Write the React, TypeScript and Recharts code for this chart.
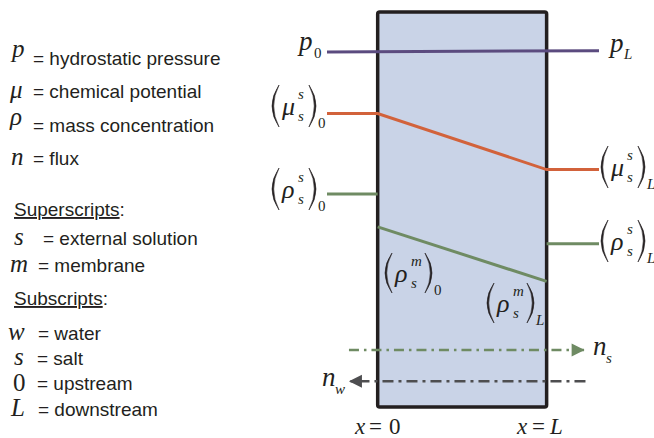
import React from 'react'
import { ComposedChart, Line, XAxis, YAxis, ReferenceArea } from 'recharts'

// x: 0 = upstream face, 1 = downstream face of the membrane (x = L)
// y: relative level of each quantity, 0 = bottom of the membrane, 100 = top
const xRange = [-0.3, 1.31]
const levelRange = [0, 100]
const membraneX = [0, 1]

const pressure = [
  { x: -0.3, y: 89.9 },
  { x: 1.31, y: 90.2 },
]
const chemPotential = [
  { x: -0.3, y: 74.3 },
  { x: 0, y: 74.3 },
  { x: 1, y: 60.1 },
  { x: 1.31, y: 60.1 },
]
const saltUpstream = [
  { x: -0.3, y: 53.9 },
  { x: 0, y: 53.9 },
]
const saltDownstream = [
  { x: 1, y: 41.3 },
  { x: 1.31, y: 41.3 },
]
const saltInMembrane = [
  { x: 0, y: 45.6 },
  { x: 1, y: 31.8 },
]
const saltFlux = [
  { x: -0.17, y: 14.4 },
  { x: 1.225, y: 14.4 },
]
const waterFlux = [
  { x: 1.23, y: 6.5 },
  { x: -0.17, y: 6.5 },
]

const SERIF = '"Liberation Serif", "DejaVu Serif", serif'
const SANS = '"Liberation Sans", Arial, sans-serif'
const INK = '#231f20'

const PURPLE = '#5b4b7f'
const ORANGE = '#d2623b'
const GREEN = '#6f8b63'
const GREY = '#4e4e50'

// arrow head drawn on the last point of a flux line
const arrowDot = (dir: 1 | -1, color: string, last: number) => (props: any) => {
  const { cx, cy, index } = props
  if (index !== last) return <g key={`d${index}`} />
  const b = cx - dir * 13
  return (
    <polygon
      key={`d${index}`}
      points={`${cx},${cy} ${b},${cy - 6.5} ${b},${cy + 6.5}`}
      fill={color}
    />
  )
}

function Paren({ x, cy, h = 42, right = false }: { x: number; cy: number; h?: number; right?: boolean }) {
  const w = 7
  const t = 1.7
  const top = cy - h / 2
  const bot = cy + h / 2
  const xe = right ? x : x + w
  const s = right ? 1 : -1
  const d = `M${xe},${top} Q${xe + s * 2 * w},${cy} ${xe},${bot} Q${xe + s * (2 * w - 2 * t)},${cy} ${xe},${top} Z`
  return <path d={d} fill={INK} stroke={INK} strokeWidth={0.6} />
}

function MathLabel({
  x, cy, base, sup, sub, outer, wide = false, h = 42,
}: { x: number; cy: number; base: string; sup: string; sub: string; outer: string; wide?: boolean; h?: number }) {
  const rp = wide ? 40 : 37
  return (
    <g fill={INK} fontFamily={SERIF}>
      <Paren x={x} cy={cy} h={h} />
      <text x={x + 10} y={cy + 9} fontSize={26} fontStyle="italic">{base}</text>
      <text x={x + 26} y={cy - 7} fontSize={15} fontStyle="italic">{sup}</text>
      <text x={x + 26} y={cy + 15} fontSize={15} fontStyle="italic">{sub}</text>
      <Paren x={x + rp} cy={cy} h={h} right />
      <text x={x + rp + 9} y={cy + 22} fontSize={15} fontStyle={outer === '0' ? 'normal' : 'italic'}>{outer}</text>
    </g>
  )
}

function Sym({ x, y, ch, italic = true }: { x: number; y: number; ch: string; italic?: boolean }) {
  return (
    <text x={x} y={y} fontFamily={SERIF} fontSize={25} fontStyle={italic ? 'italic' : 'normal'} fill={INK}>
      {ch}
    </text>
  )
}

function Txt({ x, y, children }: { x: number; y: number; children: React.ReactNode }) {
  return (
    <text x={x} y={y} fontFamily={SANS} fontSize={19} fill={INK}>
      {children}
    </text>
  )
}

function Overlay() {
  return (
    <svg width={654} height={438} style={{ position: 'absolute', left: 0, top: 0, pointerEvents: 'none' }}>
      {/* key */}
      <Sym x={12} y={57} ch="p" />
      <Txt x={33} y={65}>= hydrostatic pressure</Txt>
      <Sym x={10} y={98} ch="μ" />
      <Txt x={33} y={98}>= chemical potential</Txt>
      <Sym x={10} y={125} ch="ρ" />
      <Txt x={33} y={132}>= mass concentration</Txt>
      <Sym x={11} y={165} ch="n" />
      <Txt x={33} y={165}>= flux</Txt>

      <Txt x={14} y={216}>
        <tspan style={{ textDecoration: 'underline' }}>Superscripts</tspan>:
      </Txt>
      <Sym x={14} y={245} ch="s" />
      <Txt x={43} y={245}>= external solution</Txt>
      <Sym x={10} y={272} ch="m" />
      <Txt x={38} y={272}>= membrane</Txt>

      <Txt x={14} y={305}>
        <tspan style={{ textDecoration: 'underline' }}>Subscripts</tspan>:
      </Txt>
      <Sym x={8} y={340} ch="w" />
      <Txt x={38} y={340}>= water</Txt>
      <Sym x={14} y={365} ch="s" />
      <Txt x={37} y={365}>= salt</Txt>
      <Sym x={13} y={391} ch="0" italic={false} />
      <Txt x={37} y={390}>= upstream</Txt>
      <Sym x={11} y={416} ch="L" />
      <Txt x={38} y={416}>= downstream</Txt>

      {/* pressure labels */}
      <g fill={INK} fontFamily={SERIF}>
        <text x={299} y={50} fontSize={27} fontStyle="italic">p</text>
        <text x={314} y={58} fontSize={15}>0</text>
        <text x={610} y={52} fontSize={27} fontStyle="italic">p</text>
        <text x={624} y={59} fontSize={15} fontStyle="italic">L</text>
      </g>

      <MathLabel x={272} cy={106} base="μ" sup="s" sub="s" outer="0" />
      <MathLabel x={272} cy={189} base="ρ" sup="s" sub="s" outer="0" />
      <MathLabel x={601} cy={167} base="μ" sup="s" sub="s" outer="L" />
      <MathLabel x={601} cy={241} base="ρ" sup="s" sub="s" outer="L" />
      <MathLabel x={385} cy={273} base="ρ" sup="m" sub="s" outer="0" wide h={40} />
      <MathLabel x={487} cy={303} base="ρ" sup="m" sub="s" outer="L" wide h={40} />

      {/* flux labels */}
      <g fill={INK} fontFamily={SERIF} fontStyle="italic">
        <text x={593} y={355} fontSize={27}>n</text>
        <text x={606} y={363} fontSize={15}>s</text>
        <text x={322} y={386} fontSize={27}>n</text>
        <text x={335} y={394} fontSize={15}>w</text>
      </g>

      {/* position labels */}
      <g fill={INK} fontFamily={SERIF} fontSize={23}>
        <text x={355} y={434} fontStyle="italic">x</text>
        <text x={369} y={434}>=</text>
        <text x={389} y={434}>0</text>
        <text x={517} y={434} fontStyle="italic">x</text>
        <text x={532} y={434}>=</text>
        <text x={550} y={434} fontStyle="italic">L</text>
      </g>
    </svg>
  )
}

export default function App() {
  return (
    <div style={{ position: 'absolute', left: 0, top: 0, width: 654, height: 438, background: '#fff', overflow: 'hidden' }}>
      <ComposedChart width={654} height={438} margin={{ top: 12, right: 55, bottom: 31, left: 327 }}>
        <XAxis type="number" dataKey="x" domain={xRange} hide />
        <YAxis type="number" dataKey="y" domain={levelRange} hide />
        <ReferenceArea
          x1={membraneX[0]}
          x2={membraneX[1]}
          y1={levelRange[0]}
          y2={levelRange[1]}
          fill="#c9d3e7"
          fillOpacity={1}
          stroke={INK}
          strokeWidth={3.5}
          radius={2}
        />
        <Line data={saltUpstream} dataKey="y" type="linear" stroke={GREEN} strokeWidth={3} dot={false} isAnimationActive={false} />
        <Line data={saltDownstream} dataKey="y" type="linear" stroke={GREEN} strokeWidth={3} dot={false} isAnimationActive={false} />
        <Line data={saltInMembrane} dataKey="y" type="linear" stroke={GREEN} strokeWidth={3} dot={false} isAnimationActive={false} />
        <Line data={chemPotential} dataKey="y" type="linear" stroke={ORANGE} strokeWidth={3} dot={false} isAnimationActive={false} />
        <Line data={pressure} dataKey="y" type="linear" stroke={PURPLE} strokeWidth={3} dot={false} isAnimationActive={false} />
        <Line
          data={saltFlux}
          dataKey="y"
          type="linear"
          stroke={GREEN}
          strokeWidth={2.5}
          strokeDasharray="10 5 2.5 5"
          dot={arrowDot(1, GREEN, saltFlux.length - 1)}
          isAnimationActive={false}
        />
        <Line
          data={waterFlux}
          dataKey="y"
          type="linear"
          stroke={GREY}
          strokeWidth={2.5}
          strokeDasharray="11 5 3 5"
          dot={arrowDot(-1, GREY, waterFlux.length - 1)}
          isAnimationActive={false}
        />
      </ComposedChart>
      <Overlay />
    </div>
  )
}
